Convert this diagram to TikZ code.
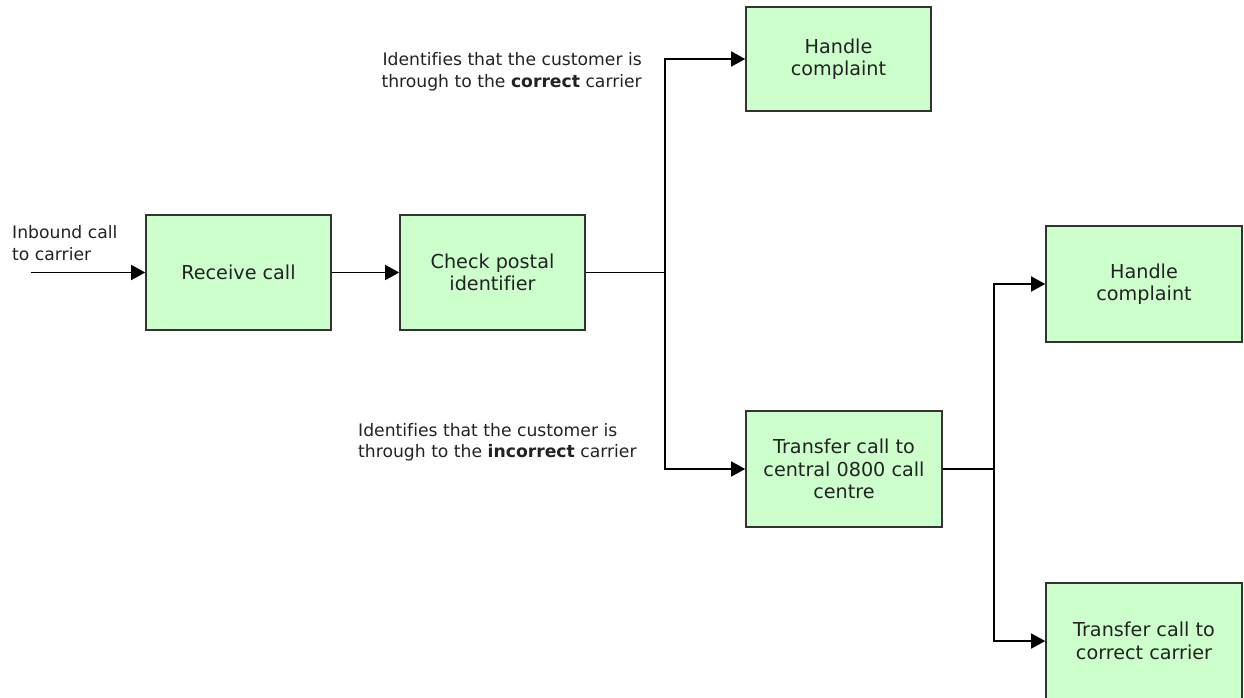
\documentclass[tikz,border=0pt]{standalone}
\usepackage{fontspec}
\setmainfont[Ligatures={NoCommon}]{DejaVu Sans}
\usetikzlibrary{arrows.meta}
\definecolor{boxgreen}{HTML}{CCFFCC}
\definecolor{inkgray}{HTML}{222222}
\begin{document}
\begin{tikzpicture}[x=1pt,y=-1pt,
  every node/.style={text=inkgray},
  procbox/.style={draw=black!80, line width=1.6pt, fill=boxgreen, align=center, inner sep=0pt,
    font=\fontsize{19.2}{22.5}\selectfont},
  flow/.style={line width=1.5pt, -{Triangle[length=14pt,width=15pt]}},
  link/.style={line width=1.5pt},
  note/.style={inner sep=0pt, font=\fontsize{17.2}{21.5}\selectfont}
]
\useasboundingbox (0,0) rectangle (1244,697);
\clip (0,0) rectangle (1244,697);

% process steps
\node[procbox, minimum width=185pt, minimum height=115pt] (receive) at (238.5,272.5) {Receive call};
\node[procbox, minimum width=185pt, minimum height=115pt] (check) at (492.5,272.5) {Check postal\\identifier};
\node[procbox, minimum width=185pt, minimum height=104pt] (handleA) at (838.5,59) {Handle\\complaint};
\node[procbox, minimum width=196pt, minimum height=116pt] (central) at (844,469) {Transfer call to\\central 0800 call\\centre};
\node[procbox, minimum width=196pt, minimum height=116pt] (handleB) at (1144,284) {Handle\\complaint};
\node[procbox, minimum width=196pt, minimum height=116pt] (transfer) at (1144,641) {Transfer call to\\correct carrier};

% branch points
\coordinate (inbound) at (31,272.5);
\coordinate (splitA) at (665,272.5);
\coordinate (splitB) at (994,469);

% annotations
\node[note, anchor=west, align=left] (inlabel) at (12,243) {Inbound call\\to carrier};
\node[note, anchor=east, align=right] (oklabel) at (642,72) {Identifies that the customer is\\through to the \textbf{correct} carrier};
\node[note, anchor=west, align=left] (badlabel) at (358,442) {Identifies that the customer is\\through to the \textbf{incorrect} carrier};

% connectors
\draw[flow] (inbound) -- (receive.west);
\draw[flow] (receive.east) -- (check.west);
\draw[link] (check.east) -- (splitA);
\draw[flow] (splitA) |- (handleA.west);
\draw[flow] (splitA) |- (central.west);
\draw[link] (central.east) -- (splitB);
\draw[flow] (splitB) |- (handleB.west);
\draw[flow] (splitB) |- (transfer.west);
\end{tikzpicture}
\end{document}
